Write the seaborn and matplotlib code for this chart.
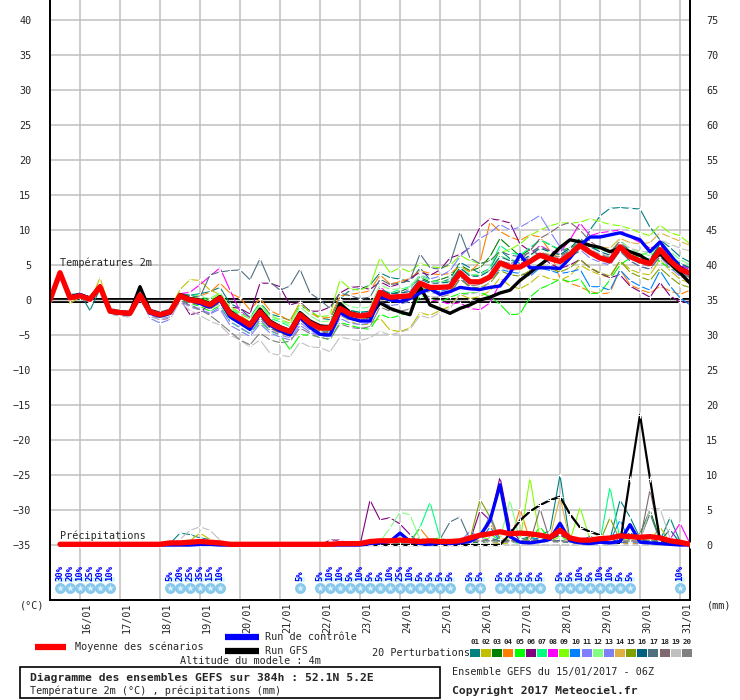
# Diagramme des ensembles GEFS (style Meteociel) : températures 2m + précipitations
import numpy as np
import pandas as pd
import matplotlib
matplotlib.use("Agg")
import matplotlib.pyplot as plt
from matplotlib.patches import Rectangle
import seaborn as sns

# ---- échéances (h depuis le 15/01 06Z) ----
HOURS = list(range(0, 385, 6))
DATES = ["16/01", "17/01", "18/01", "19/01", "20/01", "21/01", "22/01", "23/01",
         "24/01", "25/01", "26/01", "27/01", "28/01", "29/01", "30/01", "31/01"]
DATE_H = [18, 42, 66, 90, 114, 138, 162, 186, 210, 234, 258, 282, 306, 330, 354, 378]

PERT_NAMES = ["01", "02", "03", "04", "05", "06", "07", "08", "09", "10",
              "11", "12", "13", "14", "15", "16", "17", "18", "19", "20"]
PERT_COLORS = ["#008080", "#c0c000", "#008000", "#ff8000", "#00ff00", "#800080",
               "#00ff80", "#ff00ff", "#80ff00", "#0080ff", "#8080ff", "#80ff80",
               "#7f7ff8", "#e0b040", "#80a000", "#006080", "#507080", "#806870",
               "#c0c0c0", "#808080"]

# ---- températures 2m (°C) ----
TEMP_MEAN = [0.0, 3.9, 0.3, 0.6, 0.1, 1.9, -1.6, -1.8, -1.9, 0.7, -1.7, -2.1, -1.7,
             0.6, 0.0, -0.2, -0.7, 0.3, -1.9, -2.7, -3.6, -1.7, -3.3, -4.0, -4.5, -2.1,
             -3.3, -4.0, -4.0, -1.2, -2.0, -2.3, -2.1, 1.1, 0.4, 0.5, 0.6, 2.4, 1.8,
             1.8, 1.9, 3.9, 2.6, 2.6, 3.3, 5.3, 4.7, 4.7, 5.5, 6.4, 5.9, 5.5,
             6.5, 7.8, 6.8, 6.0, 5.6, 7.6, 6.2, 5.6, 5.2, 7.2, 5.6, 4.4, 3.8]
TEMP_CTRL = [0.0, 3.8, 0.4, 0.8, 0.2, 1.8, -1.7, -1.9, -2.0, 0.6, -1.9, -2.3, -1.9,
             0.4, 0.0, -0.5, -1.0, 0.0, -2.4, -3.3, -4.2, -2.0, -3.6, -4.4, -5.0, -2.5,
             -3.9, -4.9, -5.0, -1.8, -2.6, -3.0, -3.0, 0.5, 0.0, -0.2, 0.2, 1.0, 1.6,
             0.8, 1.2, 1.8, 1.6, 1.5, 1.8, 2.0, 3.8, 6.5, 4.6, 4.6, 4.6, 4.5,
             6.0, 7.8, 9.0, 9.0, 9.3, 9.6, 9.1, 8.6, 6.9, 8.3, 6.5, 4.7, 3.9]
TEMP_GFS = [0.0, 3.9, 0.5, 0.7, 0.3, 2.0, -1.5, -1.8, -1.8, 1.9, -1.5, -2.0, -1.6,
            0.8, 0.2, 0.0, -0.5, 0.5, -1.6, -2.6, -3.4, -1.3, -3.0, -3.8, -4.4, -1.8,
            -3.0, -3.7, -3.9, -0.5, -1.8, -2.2, -2.4, -0.4, -1.2, -1.7, -2.1, 1.9, -0.7,
            -1.3, -1.9, -1.2, -0.7, 0.0, 0.4, 1.0, 1.4, 2.8, 3.9, 5.0, 6.1, 7.5,
            8.6, 8.3, 7.8, 7.5, 6.9, 7.4, 6.9, 6.4, 5.4, 6.6, 5.2, 3.9, 2.4]

T01 = [0.1, 3.7, 0.8, 0.9, -1.5, 1.6, -1.8, -1.9, -2.2, 0.5, -1.8, -2.3, -1.6,
       0.9, 0.7, 0.9, 1.2, 1.8, -0.5, -1.2, -2.5, -0.4, -2.0, -2.4, -2.9, -0.8,
       -1.5, -2.6, -2.8, 0.2, 1.4, 1.6, 2.1, 3.9, 3.2, 3.0, 2.6, 4.6, 2.9,
       2.5, 3.0, 5.4, 4.6, 3.8, 4.5, 7.1, 5.9, 5.2, 6.0, 6.7, 6.4, 5.7,
       6.2, 7.0, 10.0, 12.0, 13.1, 13.2, 13.1, 13.0, 10.4, 8.6, 7.5, 6.2, 5.4]
T02 = [0.0, 3.8, -0.5, 0.4, -0.3, 3.2, -1.3, -1.6, -1.7, 1.1, -1.4, -1.9, -1.3,
       1.5, 2.9, 2.8, 1.4, 0.8, -1.2, -2.2, -3.1, -1.9, -3.8, -4.6, -5.2, -2.8,
       -3.9, -4.6, -4.8, -2.1, -3.0, -3.6, -3.4, -2.6, -4.3, -4.5, -4.0, -1.8, -2.2,
       -1.5, -0.9, 0.8, 0.2, 0.5, 1.3, 3.2, 2.0, 1.6, 2.4, 3.6, 3.0, 2.8,
       3.5, 5.0, 4.2, 3.6, 3.2, 5.6, 4.4, 3.8, 3.6, 5.8, 4.2, 3.0, 2.4]
T03 = [0.0, 3.9, 0.2, 0.5, 0.0, 1.8, -1.7, -1.9, -2.0, 0.6, -1.8, -2.2, -1.8,
       0.4, -0.3, -0.6, -1.2, -0.2, -2.5, -3.2, -4.1, -2.3, -3.7, -4.3, -4.8, -2.5,
       -3.6, -4.1, -4.2, -1.5, -2.1, -2.6, -2.4, 1.4, 0.8, 1.2, 1.8, 3.2, 2.6,
       2.9, 3.4, 5.0, 4.2, 4.6, 6.2, 8.8, 7.5, 6.3, 7.2, 8.6, 7.9, 7.1,
       7.4, 8.2, 7.1, 6.5, 6.2, 8.0, 6.8, 6.1, 5.6, 7.5, 6.2, 5.0, 4.4]
T04 = [0.0, 3.9, 0.4, 0.6, 0.2, 2.0, -1.5, -1.7, -1.8, 0.8, -1.6, -2.0, -1.6,
       0.7, 0.4, 0.6, 1.1, 2.4, 1.0, 0.3, -1.4, 0.2, -1.5, -2.2, -3.0, -0.3,
       -1.8, -2.6, -2.5, 0.6, 0.8, 1.0, 1.3, 3.6, 2.3, 2.6, 3.1, 4.2, 3.8,
       3.6, 3.8, 4.8, 4.0, 5.4, 11.1, 9.8, 9.0, 8.5, 9.3, 9.0, 7.0, 3.1,
       2.4, 1.9, 1.2, 0.9, 1.0, 4.4, 2.2, 1.5, 1.0, 2.0, 1.3, 0.8, 1.4]
T05 = [0.0, 3.8, 0.2, 0.4, -0.2, 1.6, -2.0, -2.2, -2.3, 0.3, -2.0, -2.5, -2.1,
       0.2, -0.5, -0.9, -1.6, -0.8, -3.0, -4.0, -4.8, -3.1, -4.4, -5.0, -7.1, -5.0,
       -5.0, -5.3, -5.7, -3.2, -3.6, -4.0, -4.2, -2.0, -2.6, -2.2, -1.8, 0.6, 0.2,
       -0.3, 0.4, 0.9, 1.0, 1.1, 0.5, -0.6, -2.1, -2.0, 0.4, 1.6, 2.2, 3.0,
       2.6, 3.0, 0.9, 1.0, 2.9, 5.0, 6.0, 6.4, 6.9, 5.4, 4.6, 3.9, 3.2]
T06 = [0.0, 3.8, 0.0, 0.5, -0.4, 1.5, -1.9, -2.3, -2.4, 0.2, -2.3, -2.8, -2.6,
       0.2, -2.1, -1.8, -0.5, 0.4, -1.0, -1.2, -2.0, 2.4, 2.4, 1.9, -0.7, -0.3,
       -1.6, -1.6, -1.0, 1.0, 1.8, 1.9, 1.5, 2.6, 1.9, 2.3, 3.0, 4.0, 3.5,
       4.3, 6.0, 6.5, 7.5, 10.4, 11.6, 11.4, 11.0, 8.0, 7.0, 6.5, 5.2, 4.5,
       5.0, 5.8, 4.6, 3.8, 3.2, 3.6, 2.0, 1.2, 0.4, 2.5, 0.6, -0.3, -0.3]
T07 = [0.0, 3.9, 0.5, 0.8, 0.3, 2.2, -1.4, -1.6, -1.7, 0.9, -1.5, -1.9, -1.5,
       0.8, 0.6, 0.8, -0.4, 0.8, -1.4, -2.0, -2.6, -0.4, -2.6, -3.1, -3.8, -1.6,
       -2.8, -3.7, -3.8, -0.6, -1.5, -1.7, -1.6, 1.6, 1.0, 1.5, 1.9, 3.5, 2.8,
       2.6, 2.4, 4.8, 3.6, 3.5, 4.6, 7.8, 6.8, 6.4, 7.5, 8.6, 7.9, 7.2,
       7.0, 8.2, 7.6, 7.2, 6.8, 8.4, 7.0, 6.3, 5.8, 8.0, 6.5, 5.2, 4.6]
T08 = [0.0, 3.9, 0.4, 0.7, 0.2, 2.1, -1.5, -1.7, -1.8, 0.8, -1.6, -2.0, -1.6,
       0.9, 1.1, 2.2, 3.4, 4.6, 1.4, -1.6, -2.6, -1.4, -2.8, -3.8, -4.3, -1.8,
       -3.0, -3.9, -3.9, -1.4, -1.9, -2.0, -1.8, 1.9, 0.6, 0.5, 0.3, 1.2, 0.0,
       -0.2, -0.6, -0.4, -1.2, -1.4, -0.4, 2.4, 3.9, 5.0, 6.4, 7.8, 7.0, 6.8,
       8.6, 11.0, 9.2, 9.6, 9.8, 10.0, 9.0, 8.2, 7.4, 7.9, 6.0, 5.0, 4.4]
T09 = [0.0, 3.9, 0.3, 0.7, 0.2, 2.0, -1.5, -1.8, -1.8, 0.8, -1.6, -2.0, -1.5,
       0.8, 0.4, 0.2, -0.1, 1.0, -0.9, -1.8, -2.7, -0.6, -2.2, -2.8, -3.3, -0.5,
       -1.7, -2.4, -2.2, 2.9, 1.6, 1.4, 2.0, 6.0, 3.9, 4.6, 4.0, 5.2, 4.8,
       4.6, 4.9, 6.4, 5.6, 5.2, 5.6, 6.8, 7.2, 8.0, 9.2, 10.0, 10.6, 11.0,
       11.0, 11.1, 11.6, 11.2, 10.8, 10.6, 10.2, 9.6, 9.2, 10.7, 9.6, 9.2, 8.0]
T10 = [0.0, 3.9, 0.3, 0.6, 0.1, 1.9, -1.7, -1.9, -2.0, 0.6, -1.8, -2.2, -1.8,
       0.5, -0.2, -0.5, -1.0, 0.0, -2.4, -3.3, -4.2, -2.3, -3.8, -4.5, -5.0, -2.6,
       -3.8, -4.6, -4.5, -1.6, -2.3, -2.5, -2.3, 0.7, 0.1, 0.2, 0.3, 2.0, 1.4,
       1.2, 1.6, 3.4, 1.8, 1.4, 2.6, 4.4, 4.0, 3.8, 3.4, 4.6, 4.2, 3.8,
       4.0, 4.4, 1.9, 1.9, 1.4, 4.3, 2.8, 2.0, 1.4, 4.2, 2.0, 0.3, -0.7]
T11 = [0.0, 3.8, 0.1, 0.4, -0.1, 1.7, -1.8, -2.1, -2.3, 0.4, -2.6, -3.3, -2.8,
       0.0, -0.7, -1.3, -1.9, -1.0, -3.1, -3.9, -4.8, -2.8, -4.3, -5.0, -5.4, -3.2,
       -4.3, -5.1, -5.0, -2.2, -2.8, -3.0, -2.8, 0.5, -0.1, 0.8, 1.6, 3.6, 3.0,
       3.4, 4.2, 6.2, 7.6, 8.8, 9.6, 10.8, 10.0, 10.4, 11.2, 12.1, 9.8, 7.6,
       6.4, 7.2, 6.0, 5.4, 5.0, 7.0, 5.6, 4.8, 4.4, 6.2, 4.6, 3.4, 2.8]
T12 = [0.0, 3.9, 0.4, 0.7, 0.3, 2.1, -1.4, -1.7, -1.7, 0.9, -1.5, -1.8, -1.4,
       0.9, 0.5, 0.5, 0.2, 1.1, -1.1, -1.9, -2.7, -0.6, -2.3, -2.9, -3.5, -1.0,
       -2.2, -3.1, -3.0, -0.2, -0.9, -1.2, -1.0, 2.2, 1.5, 1.6, 1.7, 3.6, 2.8,
       2.6, 2.7, 4.8, 3.6, 3.7, 4.4, 6.4, 5.7, 5.6, 6.3, 7.4, 6.8, 6.4,
       7.4, 8.8, 7.8, 7.2, 6.8, 8.6, 7.3, 6.8, 6.3, 8.2, 6.9, 5.8, 5.0]
T13 = [0.0, 3.9, 0.1, 0.4, -0.1, 1.7, -1.9, -2.2, -2.4, 0.3, -2.2, -2.7, -2.4,
       -0.1, -1.0, -1.4, -2.0, -1.3, -3.6, -4.4, -5.2, -3.4, -4.7, -5.3, -5.7, -3.6,
       -4.6, -5.1, -5.3, -2.6, -3.3, -3.5, -3.3, -0.3, -0.8, -0.6, -0.2, 1.6, 1.0,
       1.0, 1.2, 3.6, 2.4, 2.6, 3.5, 5.6, 5.0, 4.8, 5.6, 6.6, 6.0, 5.6,
       6.5, 7.8, 6.8, 6.1, 5.6, 7.8, 6.0, 5.3, 4.8, 6.8, 5.2, 4.0, 3.4]
T14 = [0.0, 3.9, 0.2, 0.5, 0.0, 1.8, -1.7, -1.9, -2.1, 0.5, -1.9, -2.3, -1.9,
       0.4, -0.2, -0.4, -0.9, 0.1, -2.2, -3.2, -4.3, -2.4, -4.0, -4.8, -5.2, -2.8,
       -4.0, -4.8, -4.8, -1.9, -2.8, -3.0, -2.8, 0.6, 0.0, -0.2, 0.0, 2.0, 1.4,
       1.6, 1.7, 3.6, 2.5, 2.4, 3.2, 5.0, 4.6, 4.8, 5.8, 6.8, 6.5, 6.2,
       7.0, 8.4, 7.9, 7.6, 7.4, 8.8, 8.2, 8.0, 8.2, 9.6, 9.0, 8.4, 7.8]
T15 = [0.0, 3.8, 0.2, 0.5, 0.0, 1.7, -1.8, -2.0, -2.1, 0.5, -1.9, -2.3, -1.9,
       0.3, -0.4, -0.6, -1.2, -0.3, -2.6, -3.4, -4.3, -2.5, -3.9, -4.6, -5.1, -2.8,
       -3.9, -4.4, -4.4, -1.8, -2.5, -2.8, -2.6, 0.4, -0.2, -0.1, 0.1, 1.8, 1.2,
       1.0, 1.1, 3.0, 1.8, 1.8, 2.4, 4.2, 3.6, 3.4, 4.2, 5.0, 4.5, 4.0,
       4.6, 5.8, 4.6, 3.9, 3.4, 5.6, 4.0, 3.3, 2.8, 4.6, 3.3, 2.2, 1.8]
T16 = [0.0, 3.9, 0.3, 0.6, 0.0, 1.8, -1.6, -1.8, -1.9, 0.7, -1.7, -2.1, -1.7,
       0.6, 0.1, -0.1, -0.6, 0.4, -1.8, -2.6, -3.4, -1.5, -3.0, -3.7, -4.2, -1.8,
       -3.0, -3.6, -3.6, -0.8, -1.5, -1.8, -1.6, 1.5, 0.9, 1.0, 1.2, 3.0, 2.4,
       2.4, 2.6, 4.6, 3.4, 3.4, 4.2, 6.2, 5.6, 5.5, 6.4, 7.4, 6.9, 6.5,
       7.4, 8.8, 7.6, 6.9, 6.4, 8.4, 6.9, 6.2, 5.8, 8.0, 6.4, 5.2, 4.6]
T17 = [0.0, 3.9, 0.6, 1.0, 0.4, 2.2, -1.2, -1.5, -1.6, 1.0, -1.3, -1.7, -1.3,
       0.9, 0.6, 0.4, 3.6, 4.0, 4.2, 4.3, 2.9, 5.9, 2.6, 1.4, 2.0, 4.4,
       1.0, 0.0, -1.2, 1.0, 0.6, 0.2, 0.4, 3.0, 2.2, 2.4, 2.8, 6.6, 4.6,
       4.4, 5.2, 9.7, 6.0, 5.2, 5.6, 7.0, 6.4, 6.2, 6.8, 7.6, 7.0, 6.4,
       7.0, 8.0, 6.6, 5.8, 5.2, 7.0, 5.6, 4.8, 4.4, 6.2, 5.0, 3.8, 3.2]
T18 = [0.0, 3.9, 0.2, 0.5, 0.0, 1.8, -1.7, -2.0, -2.0, 0.5, -1.9, -2.3, -1.9,
       0.3, -0.4, -0.7, -1.3, -0.4, -2.5, -3.4, -4.3, -2.5, -4.0, -4.7, -5.1, -2.8,
       -3.9, -4.6, -4.6, -1.9, -2.6, -2.8, -2.6, 0.6, 0.2, 0.2, 0.4, 2.2, 1.6,
       1.6, 1.8, 3.6, 2.6, 2.8, 3.6, 5.6, 5.2, 5.6, 7.0, 8.8, 9.6, 10.6,
       11.1, 10.0, 8.4, 7.4, 6.8, 8.4, 6.6, 5.8, 5.4, 7.0, 5.6, 4.4, 3.8]
T19 = [0.0, 3.8, 0.0, 0.3, -0.3, 1.5, -2.0, -2.3, -2.4, 0.2, -2.3, -2.8, -2.5,
       -0.3, -1.5, -2.2, -3.0, -3.6, -5.0, -5.7, -6.7, -5.7, -7.6, -7.9, -8.1, -6.0,
       -6.7, -6.8, -7.4, -5.3, -5.6, -5.8, -5.4, -4.5, -5.0, -4.6, -4.2, -2.2, -2.6,
       -1.8, -1.2, 0.8, 0.8, 1.2, 2.6, 4.8, 4.2, 4.4, 5.4, 6.6, 6.2, 6.0,
       7.0, 8.2, 7.2, 6.6, 6.2, 8.2, 7.4, 7.0, 6.8, 8.6, 8.0, 7.4, 7.0]
T20 = [0.0, 3.8, 0.1, 0.4, -0.1, 1.7, -1.9, -2.1, -2.2, 0.4, -2.1, -2.5, -2.1,
       0.0, -0.8, -1.4, -2.2, -3.3, -4.5, -5.7, -6.4, -4.7, -5.7, -6.1, -5.9, -4.0,
       -4.8, -5.4, -5.6, -3.4, -3.9, -4.1, -3.8, -1.0, -1.6, -1.6, -1.3, 1.0, 0.4,
       0.4, 0.8, 3.0, 2.0, 2.2, 3.0, 5.0, 4.4, 4.6, 5.6, 6.8, 6.4, 6.1,
       7.0, 8.4, 7.2, 6.4, 6.0, 7.6, 6.0, 5.2, 4.8, 6.6, 5.0, 3.8, 3.2]

# ---- précipitations (mm / 6h), à partir de +6h ----
PREC_MEAN = [0.1, 0.1, 0.1, 0.1, 0.1, 0.1, 0.1, 0.1, 0.1, 0.1, 0.1, 0.3, 0.3,
             0.4, 0.5, 0.4, 0.3, 0.1, 0.1, 0.1, 0.1, 0.1, 0.1, 0.1, 0.1, 0.1,
             0.1, 0.1, 0.2, 0.2, 0.2, 0.5, 0.6, 0.6, 0.7, 0.6, 0.5, 0.6, 0.5,
             0.5, 0.6, 1.0, 1.4, 1.6, 1.9, 1.6, 1.7, 1.6, 1.4, 1.1, 2.1, 1.0,
             0.7, 0.7, 0.9, 1.0, 1.3, 1.2, 1.1, 1.2, 1.0, 0.6, 0.4, 0.1]
PREC_CTRL = [0, 0, 0, 0, 0, 0, 0, 0, 0, 0, 0, 0, 0,
             0, 0.1, 0.1, 0, 0, 0, 0, 0, 0, 0, 0, 0, 0,
             0, 0, 0, 0, 0, 0.2, 0.3, 0.5, 1.7, 0.5, 0.2, 0.1, 0.3,
             0.2, 0.3, 0.5, 1.3, 3.5, 8.6, 1.2, 0.4, 0.3, 0.5, 0.8, 3.1, 0.6,
             0.3, 0.2, 0.4, 0.3, 0.5, 2.9, 0.4, 0.3, 0.2, 0.1, 0, 0]
PREC_GFS = [0, 0, 0, 0, 0, 0, 0, 0, 0, 0, 0, 0, 0,
            0, 0, 0, 0, 0, 0, 0, 0, 0, 0, 0, 0, 0,
            0, 0, 0, 0, 0, 0, 0, 0, 0, 0, 0, 0, 0,
            0, 0, 0, 0, 0, 0, 1.6, 3.5, 4.8, 5.7, 6.4, 6.9, 4.4,
            2.5, 1.9, 1.4, 0.7, 0.2, 9.5, 18.6, 9.5, 0.7, 0.3, 0.1, 0]

P01 = [0, 0, 0, 0, 0, 0, 0, 0, 0, 0, 0, 0.2, 1.7,
       1.5, 1.0, 0.8, 0.1, 0, 0, 0, 0, 0, 0, 0, 0, 0,
       0, 0, 0, 0, 0.1, 0.2, 0.3, 0.5, 0.2, 0.6, 0.6, 0.8, 0.3,
       0.2, 0.4, 0.3, 0.5, 1.0, 0.6, 0.3, 0.8, 1.2, 1.5, 2.0, 10.0, 0.5,
       0.2, 0.4, 0.6, 0.8, 6.4, 4.0, 1.0, 0.4, 0.6, 3.9, 0.5, 0.1]
P02 = [0, 0, 0, 0, 0, 0, 0, 0, 0, 0, 0, 0, 0.1,
       0.6, 1.7, 0.8, 0.2, 0, 0, 0, 0, 0, 0, 0, 0, 0,
       0, 0, 0, 0, 0, 0, 0.2, 0.1, 0.3, 0.4, 0.2, 0.1, 0,
       0.3, 0.5, 0.2, 0.6, 0.4, 0.2, 0.3, 0.5, 0.6, 0.4, 0.8, 0.5, 0.3,
       0.6, 0.4, 0.2, 0.4, 0.8, 0.3, 0.2, 0.5, 2.6, 0.4, 0.2, 0.1]
P03 = [0, 0, 0, 0, 0, 0, 0, 0, 0, 0, 0, 0, 0.2,
       0.3, 0.4, 0.2, 0, 0, 0, 0, 0, 0, 0, 0, 0, 0,
       0, 0, 0, 0, 0, 0, 0.1, 0.3, 0.5, 0.4, 1.0, 0.4, 0.3,
       0.2, 0.4, 0.5, 0.3, 0.6, 0.8, 0.4, 0.3, 1.2, 0.6, 0.8, 1.4, 0.5,
       0.3, 0.4, 0.2, 0.5, 0.3, 0.8, 1.6, 5.0, 0.8, 0.3, 0.1, 0]
P04 = [0, 0, 0, 0, 0, 0, 0, 0, 0, 0, 0, 0, 0.1,
       0.2, 0.3, 0.1, 0, 0, 0, 0, 0, 0, 0, 0, 0, 0,
       0, 0, 0, 0, 0, 0, 0.2, 0.5, 0.6, 0.4, 2.4, 0.6, 0.3,
       0.6, 0.4, 0.8, 1.2, 3.0, 1.0, 0.5, 5.2, 0.6, 0.9, 0.4, 0.6, 0.3,
       0.2, 0.3, 0.4, 0.6, 0.3, 0.2, 0.4, 0.2, 0.5, 0.8, 0.3, 0.1]
P05 = [0, 0, 0, 0, 0, 0, 0, 0, 0, 0, 0, 0, 0.5,
       0.7, 0.5, 0.2, 0, 0, 0, 0, 0, 0, 0, 0, 0, 0,
       0, 0, 0, 0, 0, 0, 0.3, 0.4, 0.8, 0.6, 0.5, 0.8, 1.0,
       0.4, 0.6, 0.3, 0.8, 1.6, 0.6, 0.4, 0.3, 0.6, 2.6, 0.8, 0.5, 0.3,
       0.4, 0.6, 1.2, 0.8, 0.4, 0.3, 0.8, 0.6, 0.3, 0.2, 0.1, 0]
P06 = [0, 0, 0, 0, 0, 0, 0, 0, 0, 0, 0, 0, 0,
       0.1, 0, 0, 0, 0, 0, 0, 0, 0, 0, 0, 0, 0,
       0, 0.7, 0.7, 0.1, 0, 6.4, 3.6, 3.9, 3.0, 1.5, 0.2, 0.6, 0.3,
       0.4, 0.5, 0.6, 4.9, 3.5, 9.7, 2.5, 0.6, 0.8, 0.5, 0.7, 1.6, 0.4,
       0.3, 0.2, 0.6, 0.4, 0.3, 0.5, 0.8, 0.4, 0.3, 0.6, 0.2, 0]
P07 = [0, 0, 0, 0, 0, 0, 0, 0, 0, 0, 0, 0, 0,
       0.2, 0.3, 0, 0, 0, 0, 0, 0, 0, 0, 0, 0, 0,
       0, 0, 0, 0, 0, 0, 0.2, 0.4, 0.8, 0.5, 2.5, 6.1, 1.0,
       0.5, 0.6, 0.4, 0.8, 0.6, 0.4, 0.6, 0.5, 0.8, 1.0, 0.6, 0.5, 1.0,
       0.8, 0.6, 0.5, 8.3, 0.8, 0.6, 0.4, 0.3, 0.5, 0.3, 0.2, 0.1]
P08 = [0, 0, 0, 0, 0, 0, 0, 0, 0, 0, 0, 0, 0,
       0, 0, 0, 0, 0, 0, 0, 0, 0, 0, 0, 0, 0,
       0, 0, 0, 0, 0, 0, 0.1, 0.2, 0.4, 0.3, 0.6, 0.5, 0.2,
       0.3, 0.6, 0.9, 0.5, 1.0, 0.4, 0.7, 0.6, 0.5, 0.8, 0.4, 0.6, 0.5,
       0.4, 0.6, 0.3, 0.5, 0.8, 0.4, 0.3, 0.6, 0.5, 0.8, 3.1, 0.2]
P09 = [0, 0, 0, 0, 0, 0, 0, 0, 0, 0, 0, 0, 0,
       0, 0, 0, 0, 0, 0, 0, 0, 0, 0, 0, 0, 0,
       0, 0, 0, 0, 0, 0, 0.2, 0.3, 0.5, 0.4, 0.8, 0.6, 0.9,
       0.5, 0.8, 0.6, 1.2, 0.8, 0.5, 0.9, 0.6, 9.6, 0.8, 0.5, 1.2, 0.6,
       5.4, 0.8, 0.5, 0.4, 0.6, 0.8, 0.5, 0.4, 0.6, 0.3, 0.2, 0.1]
P10 = [0, 0, 0, 0, 0, 0, 0, 0, 0, 0, 0, 0, 0,
       0, 0, 0, 0, 0, 0, 0, 0, 0, 0, 0, 0, 0,
       0, 0, 0, 0, 0, 0, 0.1, 0.3, 0.2, 0.5, 0.4, 0.3, 0.6,
       0.3, 0.5, 0.8, 0.4, 2.6, 0.5, 0.4, 0.6, 0.8, 1.0, 0.5, 0.6, 0.3,
       0.4, 0.6, 0.8, 0.5, 3.6, 0.4, 0.3, 0.5, 0.6, 0.3, 0.2, 0.1]
P11 = [0, 0, 0, 0, 0, 0, 0, 0, 0, 0, 0, 0, 0,
       0, 0, 0, 0, 0, 0, 0, 0, 0, 0, 0, 0, 0,
       0, 0, 0, 0, 0, 0, 0.2, 0.6, 0.8, 0.4, 0.6, 0.5, 0.4,
       0.6, 0.4, 2.0, 1.0, 3.8, 0.6, 0.5, 0.4, 0.8, 0.6, 0.5, 0.4, 0.6,
       0.3, 0.5, 0.4, 0.6, 0.4, 0.3, 0.5, 1.2, 0.6, 0.4, 0.2, 0.1]
P12 = [0, 0, 0, 0, 0, 0, 0, 0, 0, 0, 0, 0, 0,
       0.2, 0.2, 0.1, 0, 0, 0, 0, 0, 0, 0, 0, 0, 0,
       0, 0, 0, 0, 0, 0, 0.5, 2.4, 4.7, 4.3, 0.8, 0.5, 0.6,
       0.4, 0.5, 0.8, 0.6, 0.4, 0.8, 6.4, 0.6, 0.5, 0.8, 0.6, 0.4, 0.5,
       0.6, 0.4, 0.3, 0.5, 0.8, 0.6, 0.4, 0.3, 0.5, 0.3, 0.2, 0.1]
P13 = [0, 0, 0, 0, 0, 0, 0, 0, 0, 0, 0, 0, 0,
       0, 0, 0, 0, 0, 0, 0, 0, 0, 0, 0, 0, 0,
       0, 0, 0, 0, 0, 0, 0.2, 0.3, 0.4, 0.6, 0.5, 0.8, 0.4,
       0.5, 0.6, 0.4, 0.8, 4.4, 0.6, 0.5, 0.8, 0.4, 0.6, 0.8, 0.5, 0.4,
       0.6, 0.4, 0.5, 0.3, 0.6, 0.4, 0.8, 0.5, 0.3, 0.2, 0.1, 0]
P14 = [0, 0, 0, 0, 0, 0, 0, 0, 0, 0, 0, 0, 0,
       0.1, 0.1, 0.1, 0, 0, 0, 0, 0, 0, 0, 0, 0, 0,
       0, 0, 0, 0, 0, 0, 0.1, 0.3, 0.2, 0.4, 0.6, 0.4, 0.5,
       0.3, 0.5, 0.6, 0.8, 0.5, 0.4, 0.6, 0.8, 0.5, 0.6, 1.0, 6.9, 0.5,
       0.4, 0.6, 0.5, 0.8, 0.4, 0.6, 0.5, 0.8, 0.4, 0.3, 0.2, 0.1]
P15 = [0, 0, 0, 0, 0, 0, 0, 0, 0, 0, 0, 0, 0,
       0, 0, 0, 0, 0, 0, 0, 0, 0, 0, 0, 0, 0,
       0, 0, 0, 0, 0, 0, 0.2, 0.4, 0.3, 0.5, 0.8, 0.6, 0.4,
       0.6, 0.4, 0.8, 6.5, 4.0, 0.8, 0.5, 0.6, 0.8, 0.4, 0.6, 0.5, 0.8,
       0.6, 0.4, 0.5, 3.9, 0.6, 0.4, 0.8, 0.5, 0.6, 0.3, 0.2, 0.1]
P16 = [0, 0, 0, 0, 0, 0, 0, 0, 0, 0, 0, 0, 0,
       0, 0, 0, 0, 0, 0, 0, 0, 0, 0, 0, 0, 0,
       0, 0, 0, 0, 0, 0, 0.1, 0.2, 0.4, 0.3, 0.5, 0.6, 0.4,
       0.5, 0.6, 0.4, 0.5, 0.8, 0.6, 0.4, 0.5, 0.6, 0.8, 0.5, 0.6, 0.4,
       0.6, 1.2, 0.8, 0.5, 0.6, 1.8, 0.8, 0.5, 0.6, 2.2, 0.3, 0.1]
P17 = [0, 0, 0, 0, 0, 0, 0, 0, 0, 0, 0, 0, 0,
       0.1, 0.1, 0, 0, 0, 0, 0, 0, 0, 0, 0, 0, 0,
       0, 0, 0, 0, 0, 0, 0.2, 0.3, 0.4, 0.5, 0.6, 0.4, 0.8,
       3.3, 4.0, 0.8, 0.5, 0.6, 0.4, 0.8, 0.5, 0.6, 0.4, 0.5, 0.6, 0.4,
       0.3, 0.5, 0.4, 0.6, 0.3, 0.5, 0.8, 4.5, 0.6, 0.3, 0.2, 0.1]
P18 = [0, 0, 0, 0, 0, 0, 0, 0, 0, 0, 0, 0, 0,
       0, 0, 0, 0, 0, 0, 0, 0, 0, 0, 0, 0, 0,
       0, 0, 0, 0, 0, 0, 0.1, 0.2, 0.3, 0.2, 0.4, 0.3, 0.2,
       0.3, 0.4, 0.5, 0.6, 0.4, 0.5, 0.6, 0.8, 0.4, 5.2, 0.6, 0.5, 0.4,
       0.3, 0.5, 0.6, 0.4, 0.8, 0.5, 0.6, 7.9, 1.0, 0.4, 0.2, 0.1]
P19 = [0, 0, 0, 0, 0, 0, 0, 0, 0, 0, 0, 0.1, 0.8,
       2.1, 2.6, 2.1, 0.7, 0, 0, 0, 0, 0, 0, 0, 0, 0,
       0, 0, 0, 0, 0, 0, 0.1, 0.2, 0.3, 0.2, 0.4, 0.3, 0.5,
       0.4, 0.3, 0.5, 0.6, 0.4, 0.5, 0.3, 0.6, 0.4, 0.5, 0.6, 0.4, 0.8,
       0.5, 0.6, 0.4, 0.8, 0.6, 0.5, 0.6, 5.2, 5.2, 1.0, 0.3, 0.1]
P20 = [0, 0, 0, 0, 0, 0, 0, 0, 0, 0, 0, 0, 0,
       0, 0, 0, 0, 0, 0, 0, 0, 0, 0, 0, 0, 0,
       0, 0, 0, 0, 0, 0, 0.2, 0.3, 0.2, 0.4, 0.5, 0.3, 0.6,
       0.4, 0.5, 0.6, 0.4, 0.8, 0.5, 0.4, 0.6, 0.5, 0.8, 0.6, 0.4, 0.5,
       0.6, 0.4, 0.8, 0.5, 0.6, 0.4, 0.5, 0.6, 0.8, 0.4, 0.2, 0.1]

# ---- probabilité de neige (%) ----
SNOW_H = [6, 12, 18, 24, 30, 36,
          72, 78, 84, 90, 96, 102,
          150,
          162, 168, 174, 180, 186, 192, 198, 204, 210, 216, 222, 228, 234, 240,
          252, 258,
          270, 276, 282, 288, 294,
          306, 312, 318, 324, 330, 336, 342, 348,
          378]
SNOW_PCT = [30, 20, 10, 25, 20, 10,
            5, 20, 25, 35, 15, 10,
            5,
            5, 10, 10, 5, 10, 5, 5, 10, 25, 10, 5, 5, 5, 5,
            5, 5,
            5, 5, 5, 5, 5,
            5, 5, 10, 5, 10, 10, 5, 5,
            10]

TEMPS = [T01, T02, T03, T04, T05, T06, T07, T08, T09, T10,
         T11, T12, T13, T14, T15, T16, T17, T18, T19, T20]
PRECS = [P01, P02, P03, P04, P05, P06, P07, P08, P09, P10,
         P11, P12, P13, P14, P15, P16, P17, P18, P19, P20]

dft = pd.DataFrame([(h, v, n) for n, serie in zip(PERT_NAMES, TEMPS)
                    for h, v in zip(HOURS, serie)], columns=["h", "val", "membre"])
dfp = pd.DataFrame([(h, v, n) for n, serie in zip(PERT_NAMES, PRECS)
                    for h, v in zip(HOURS[1:], serie)], columns=["h", "val", "membre"])

sns.set_style("white")
plt.rcParams["font.family"] = ["DejaVu Sans Mono", "DejaVu Sans"]
FS = 7.3

fig = plt.figure(figsize=(7.4, 7.0), dpi=100)
lax = fig.add_axes([0, 0, 1, 1], zorder=-1)
lax.set_xlim(0, 740)
lax.set_ylim(700, 0)
lax.axis("off")

ax = fig.add_axes([50 / 740, 100 / 700, 640 / 740, 600 / 700])
YLO, YHI = -42.857, 42.857
ax.set_xlim(0, 384)
ax.set_ylim(YLO, YHI)

# grille
for h in DATE_H:
    ax.axvline(h, color="#c0c0c0", lw=1.1, zorder=0)
for t in range(-35, 41, 5):
    ax.axhline(t, color="#c0c0c0", lw=1.1, zorder=0)
ax.axhline(0, color="black", lw=3.6, zorder=1)
ax.axhline(0, color="#d0d0d0", lw=1.0, zorder=1)

kw = dict(estimator=None, legend=False, marker="+", markersize=3.5,
          markeredgewidth=0.8, linewidth=0.8)
sns.lineplot(data=dft, x="h", y="val", hue="membre", hue_order=PERT_NAMES,
             palette=PERT_COLORS, ax=ax, zorder=2, **kw)
sns.lineplot(x=HOURS, y=TEMP_GFS, color="black", lw=2.4, ax=ax, zorder=3)
sns.lineplot(x=HOURS, y=TEMP_CTRL, color="#0000ff", lw=2.4, ax=ax, zorder=3)
sns.lineplot(x=HOURS, y=TEMP_MEAN, color="#ff0000", lw=3.8, ax=ax, zorder=4)

# précipitations sur l'axe de droite (0 mm = -35 °C)
ax2 = ax.twinx()
ax2.set_ylim(YLO + 35, YHI + 35)
sns.lineplot(data=dfp, x="h", y="val", hue="membre", hue_order=PERT_NAMES,
             palette=PERT_COLORS, ax=ax2, zorder=2, **kw)
sns.lineplot(x=HOURS[1:], y=PREC_GFS, color="black", lw=1.6, marker="+",
             markersize=4, ax=ax2, zorder=3)
sns.lineplot(x=HOURS[1:], y=PREC_CTRL, color="#0000ff", lw=2.4, ax=ax2, zorder=3)
sns.lineplot(x=HOURS[1:], y=PREC_MEAN, color="#ff0000", lw=3.8, ax=ax2, zorder=4)

# neige : pourcentage + flocons
ax.bar(SNOW_H, 0.9, bottom=-40.3, width=6, color="#c8f6ff", zorder=2)
ax.scatter(SNOW_H, [-41.15] * len(SNOW_H), s=62, color="#88c8ea", zorder=3,
           linewidths=0)
ax.scatter(SNOW_H, [-41.15] * len(SNOW_H), s=28, marker="*", color="#d8f2ff",
           zorder=4, linewidths=0)
for h, p in zip(SNOW_H, SNOW_PCT):
    ax.text(h, -40.1, f"{p}%", rotation=90, ha="center", va="bottom",
            color="#0000ff", fontsize=6.4, fontweight="bold", zorder=5)

ax.text(6, 5.3, "Températures 2m", fontsize=FS, va="center", ha="left", zorder=6)
ax.text(6, -33.7, "Précipitations", fontsize=FS, va="center", ha="left", zorder=6)

# axes
ax.set_xticks([])
ax.set_yticks(range(-35, 41, 5))
ax.tick_params(axis="y", length=0, pad=13.5, labelsize=FS)
ax2.set_yticks(range(0, 76, 5))
ax2.tick_params(axis="y", length=0, pad=11.5, labelsize=FS)
ax.set_xlabel("")
ax.set_ylabel("")
ax2.set_ylabel("")
for a in (ax, ax2):
    a.spines["top"].set_visible(False)
    for s in ("left", "right", "bottom"):
        a.spines[s].set_color("black")
        a.spines[s].set_linewidth(1.3)

for h, d in zip(DATE_H, DATES):
    ax.text(h + 4.2, -0.004, d, transform=ax.get_xaxis_transform(), rotation=90,
            ha="center", va="top", fontsize=FS)

# ---- légende et cartouche (coordonnées en pixels) ----
lax.text(20, 606, "(°C)", fontsize=FS, va="center", ha="left")
lax.text(707, 606, "(mm)", fontsize=FS, va="center", ha="left")

lax.plot([35, 66], [647, 647], color="#ff0000", lw=4.5, solid_capstyle="butt")
lax.text(75, 647, "Moyenne des scénarios", fontsize=FS, va="center")
lax.plot([225, 259], [637, 637], color="#0000ff", lw=4.5, solid_capstyle="butt")
lax.text(265, 637, "Run de contrôle", fontsize=FS, va="center")
lax.plot([225, 259], [651, 651], color="black", lw=4.5, solid_capstyle="butt")
lax.text(265, 651, "Run GFS", fontsize=FS, va="center")
lax.text(180, 661, "Altitude du modele : 4m", fontsize=FS, va="center")
lax.text(372, 653, "20 Perturbations", fontsize=FS, va="center")
for k, (n, c) in enumerate(zip(PERT_NAMES, PERT_COLORS)):
    x0 = 470 + k * 11.15
    lax.add_patch(Rectangle((x0, 649), 10, 7.5, color=c, lw=0))
    lax.text(x0 + 5, 642, n, fontsize=5.3, fontweight="bold", ha="center",
             va="center")

lax.add_patch(Rectangle((20, 667), 420, 31, fill=False, ec="black", lw=1.2))
lax.text(30, 678, "Diagramme des ensembles GEFS sur 384h : 52.1N 5.2E",
         fontsize=8.2, fontweight="bold", va="center")
lax.text(30, 691, "Température 2m (°C) , précipitations (mm)", fontsize=FS,
         va="center")
lax.text(452, 672, "Ensemble GEFS du 15/01/2017 - 06Z", fontsize=FS, va="center")
lax.text(452, 691, "Copyright 2017 Meteociel.fr", fontsize=8.2,
         fontweight="bold", va="center")

fig.savefig("out.png", dpi=100)
